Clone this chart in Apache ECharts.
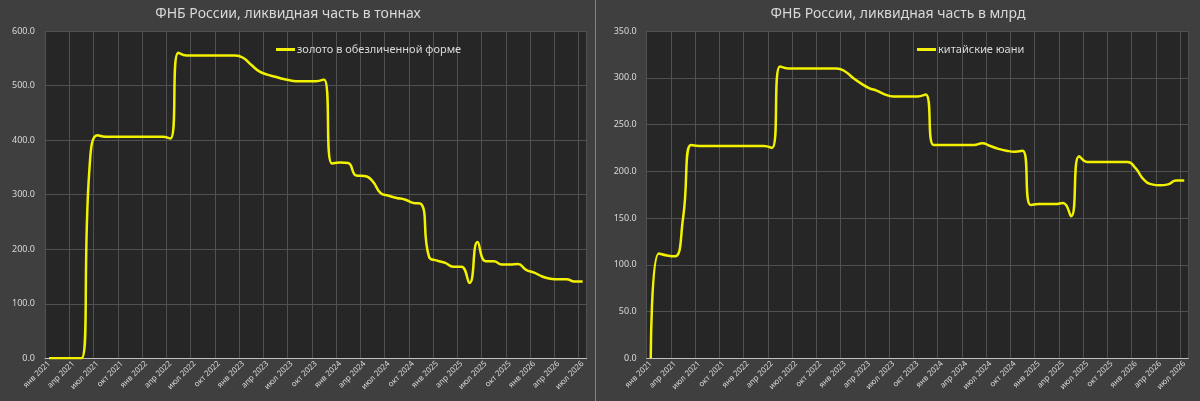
<!DOCTYPE html>
<html>
<head>
<meta charset="utf-8">
<script src="https://cdn.jsdelivr.net/npm/echarts@6/dist/echarts.min.js"></script>
<style>
html,body{margin:0;padding:0;background:#3f3f3f;}
#c{width:1200px;height:401px;}
</style>
</head>
<body>
<div id="c"></div>
<script>
const monthNames = ['янв','фев','мар','апр','май','июн','июл','авг','сен','окт','ноя','дек'];
const years = [2021, 2022, 2023, 2024, 2025, 2026];
const monthCount = 67; // янв 2021 .. июл 2026

const categories = [];
for (let i = 0; i < monthCount; i++) {
  categories.push(monthNames[i % 12] + ' ' + years[Math.floor(i / 12)]);
}

const titleLeft = 'ФНБ России, ликвидная часть в тоннах';
const titleRight = 'ФНБ России, ликвидная часть в млрд';
const nameGold = 'золото в обезличенной форме';
const nameYuan = 'китайские юани';

const goldTonnes = [
  0, 0, 0, 0, 0, 348, 409, 406, 406, 406, 406, 406,
  406, 406, 406, 403, 560, 555, 555, 555, 555, 555, 555, 555,
  551, 538, 526, 520, 516, 512, 509, 508, 508, 508, 511, 357,
  359, 358, 335, 334, 325, 303, 298, 294, 291, 285, 283, 186,
  179, 175, 168, 168, 138, 213, 178, 178, 172, 172, 173, 162,
  157, 150, 146, 145, 145, 141, 141
];

const yuanBln = [
  0, 112, 110, 109, 150, 228, 227, 227, 227, 227, 227, 227,
  227, 227, 227, 225, 312, 310, 310, 310, 310, 310, 310, 310,
  307, 300, 294, 289, 286, 282, 280, 280, 280, 280, 282, 228,
  228, 228, 228, 228, 228, 230, 227, 224, 222, 221, 222, 164,
  165, 165, 165, 166, 152, 216, 210, 210, 210, 210, 210, 210,
  203, 191, 186, 185, 186, 190, 190
];

const leftTicks = {min: 0, max: 600, interval: 100};
const rightTicks = {min: 0, max: 350, interval: 50};

const FONT = '"Noto Sans", "Open Sans", sans-serif';
const TXT = '#d9d9d9';
const GRID = '#505050';
const LINE = '#f2f200';

function xAxisFor(idx) {
  return {
    type: 'category',
    gridIndex: idx,
    data: categories,
    boundaryGap: true,
    axisLine: {show: true, lineStyle: {color: '#bfbfbf', width: 1}},
    axisTick: {show: false, interval: 2},
    axisLabel: {
      interval: 2, rotate: 45, fontSize: 8, color: TXT, fontFamily: FONT, margin: 4
    },
    splitLine: {show: true, interval: 2, lineStyle: {color: GRID, width: 1}}
  };
}

function yAxisFor(idx, t) {
  return {
    type: 'value',
    gridIndex: idx,
    min: t.min, max: t.max, interval: t.interval,
    axisLine: {show: false},
    axisTick: {show: false},
    axisLabel: {
      fontSize: 9, color: TXT, fontFamily: FONT, margin: 10,
      formatter: v => v.toFixed(1)
    },
    splitLine: {show: true, lineStyle: {color: GRID, width: 1}}
  };
}

const chart = echarts.init(document.getElementById('c'), null, {renderer: 'canvas'});
chart.setOption({
  backgroundColor: '#3f3f3f',
  animation: false,
  title: [
    {text: titleLeft, left: 283, top: 2, textAlign: 'center',
     textStyle: {color: TXT, fontSize: 14, fontWeight: 'normal', fontFamily: FONT}},
    {text: titleRight, left: 893, top: 2, textAlign: 'center',
     textStyle: {color: TXT, fontSize: 14, fontWeight: 'normal', fontFamily: FONT}}
  ],
  legend: [
    {data: [nameGold], left: 271, top: 39, itemWidth: 19, itemHeight: 3, icon: 'rect',
     textStyle: {color: TXT, fontSize: 11, fontFamily: FONT, padding: [0, 0, 0, -3]}},
    {data: [nameYuan], left: 912, top: 39, itemWidth: 19, itemHeight: 3, icon: 'rect',
     textStyle: {color: TXT, fontSize: 11, fontFamily: FONT, padding: [0, 0, 0, -3]}}
  ],
  grid: [
    {left: 45, top: 31, width: 541.7, height: 327.3, show: true, backgroundColor: '#262626', borderWidth: 0, containLabel: false},
    {left: 646.7, top: 31, width: 541.6, height: 327.3, show: true, backgroundColor: '#262626', borderWidth: 0, containLabel: false}
  ],
  xAxis: [xAxisFor(0), xAxisFor(1)],
  yAxis: [yAxisFor(0, leftTicks), yAxisFor(1, rightTicks)],
  graphic: [
    {type: 'line', shape: {x1: 595.5, y1: 0, x2: 595.5, y2: 401}, style: {stroke: '#858585', lineWidth: 1}, silent: true}
  ],
  series: [
    {name: nameGold, type: 'line', xAxisIndex: 0, yAxisIndex: 0, data: goldTonnes,
     smooth: 0.5, showSymbol: false, symbol: 'none', lineStyle: {color: LINE, width: 2.5}, itemStyle: {color: LINE}},
    {name: nameYuan, type: 'line', xAxisIndex: 1, yAxisIndex: 1, data: yuanBln,
     smooth: 0.5, showSymbol: false, symbol: 'none', lineStyle: {color: LINE, width: 2.5}, itemStyle: {color: LINE}}
  ]
});
</script>
</body>
</html>
